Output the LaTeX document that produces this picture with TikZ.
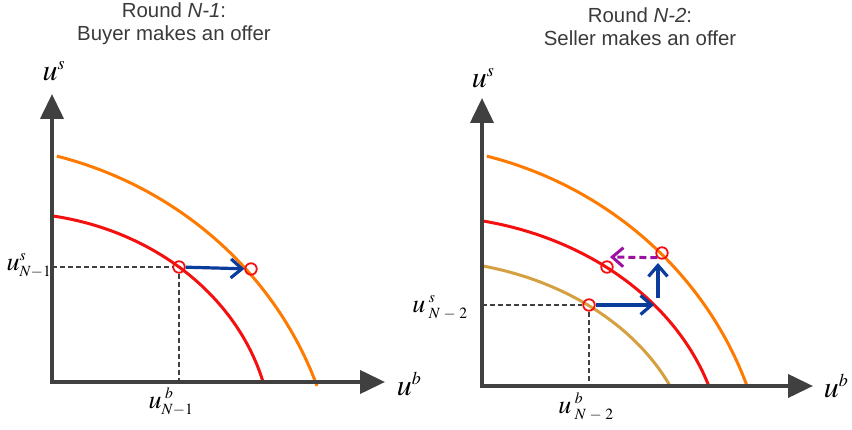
\documentclass[tikz,border=0pt]{standalone}
\usepackage{mathptmx}
\usepackage[no-math]{fontspec}
\setmainfont{Liberation Sans}
\usetikzlibrary{arrows.meta}

\definecolor{axisgray}{HTML}{404040}
\definecolor{titlegray}{HTML}{3A3A3A}
\definecolor{orangeF}{HTML}{FF7A00}
\definecolor{redF}{HTML}{F51010}
\definecolor{goldF}{HTML}{D4A040}
\definecolor{blueA}{HTML}{0A3C9C}
\definecolor{purpleA}{HTML}{9A10A0}

\newcommand{\scs}[1]{{\scriptscriptstyle #1}}

\tikzset{
    axis/.style={draw=axisgray, line width=4pt,
        arrows={Triangle[length=25pt,width=23pt]-Triangle[length=25pt,width=23pt]}},
    frontier/.style={line width=3pt},
    offer/.style={circle, draw=redF, line width=1.8pt, minimum size=11.5pt, inner sep=0pt},
    guide/.style={draw=axisgray, line width=1.4pt, dash pattern=on 5pt off 3pt},
    move/.style={draw=blueA, line width=3.2pt, -{Straight Barb[length=11pt,width=19pt]}},
    retreat/.style={draw=purpleA, line width=3pt, dash pattern=on 7pt off 4pt,
        -{Straight Barb[length=11pt,width=19pt]}},
    title/.style={font=\fontsize{20.4}{23}\selectfont, text=titlegray, align=center, inner sep=0pt},
    ulab/.style={font=\fontsize{26}{28}\selectfont, inner sep=0pt},
    axlab/.style={font=\fontsize{30}{32}\selectfont, inner sep=0pt}
}

\begin{document}
\begin{tikzpicture}[x=1pt, y=1pt]
    \useasboundingbox (0,0) rectangle (852,429);

    % titles
    \node[title, anchor=north] (titleL) at (174,426) {Round \textit{N-1}:\\Buyer makes an offer};
    \node[title, anchor=north] (titleR) at (640,421) {Round \textit{N-2}:\\Seller makes an offer};

    % left panel: round N-1
    \coordinate (O1) at (52,47);
    \coordinate (yTipL) at (52,335);
    \coordinate (xTipL) at (385,47);
    \draw[frontier, orangeF] (56.8,272.9) arc[start angle=75.2, end angle=19.6, x radius=379, y radius=364];
    \draw[frontier, redF] (53,213) arc[start angle=80.2, end angle=15, x radius=264, y radius=228.3];
    \draw[axis] (yTipL) -- (O1) -- (xTipL);
    \node[offer] (c1) at (179,162) {};
    \node[offer] (c2) at (251,160) {};
    \draw[guide] (O1 |- c1) -- (c1.west);
    \draw[guide] (c1.south) -- (c1 |- O1);
    \draw[move] (c1) -- (c2);
    \node[axlab] (usL) at (54,358) {$u^{\scs{s}}$};
    \node[axlab] (ubL) at (409,45) {$u^{\scs{b}}$};
    \node[ulab] (usN1) at (29,163) {$u^{\scs{s}}_{\scs{N-1}}$};
    \node[ulab] (ubN1) at (171,27) {$u^{\scs{\;b}}_{\scs{N-1}}$};

    % right panel: round N-2
    \coordinate (O2) at (482,43);
    \coordinate (yTipR) at (482,331);
    \coordinate (xTipR) at (813,43);
    \draw[frontier, orangeF] (486.8,272.9) arc[start angle=75.2, end angle=19.6, x radius=379, y radius=364];
    \draw[frontier, redF] (483,208) arc[start angle=78.3, end angle=17.8, x radius=301.4, y radius=245.1];
    \draw[frontier, goldF] (483,163) arc[start angle=76.2, end angle=23.75, x radius=276.4, y radius=211.1];
    \draw[axis] (yTipR) -- (O2) -- (xTipR);
    \node[offer] (g) at (589,124) {};
    \node[offer] (r) at (607,162) {};
    \node[offer] (o) at (662,176) {};
    \coordinate (hEnd) at (654,124);
    \coordinate (vBot) at (658,131);
    \coordinate (vTop) at (658,166);
    \coordinate (pTip) at (610,172);
    \draw[guide] (O2 |- g) -- (g.west);
    \draw[guide] (g.south) -- (g |- O2);
    \draw[move] (g) -- (hEnd);
    \draw[move] (vBot) -- (vTop);
    \draw[retreat] (o.south west) -- (pTip);
    \node[axlab] (usR) at (483,351) {$u^{\scs{s}}$};
    \node[axlab] (ubR) at (836,43) {$u^{\scs{b}}$};
    \node[ulab] (usN2) at (440,121) {$u^{\scs{\;s}}_{\scs{\;N\;-\;2}}$};
    \node[ulab] (ubN2) at (586,22) {$u^{\scs{\;b}}_{\scs{\;N\;-\;2}}$};
\end{tikzpicture}
\end{document}
